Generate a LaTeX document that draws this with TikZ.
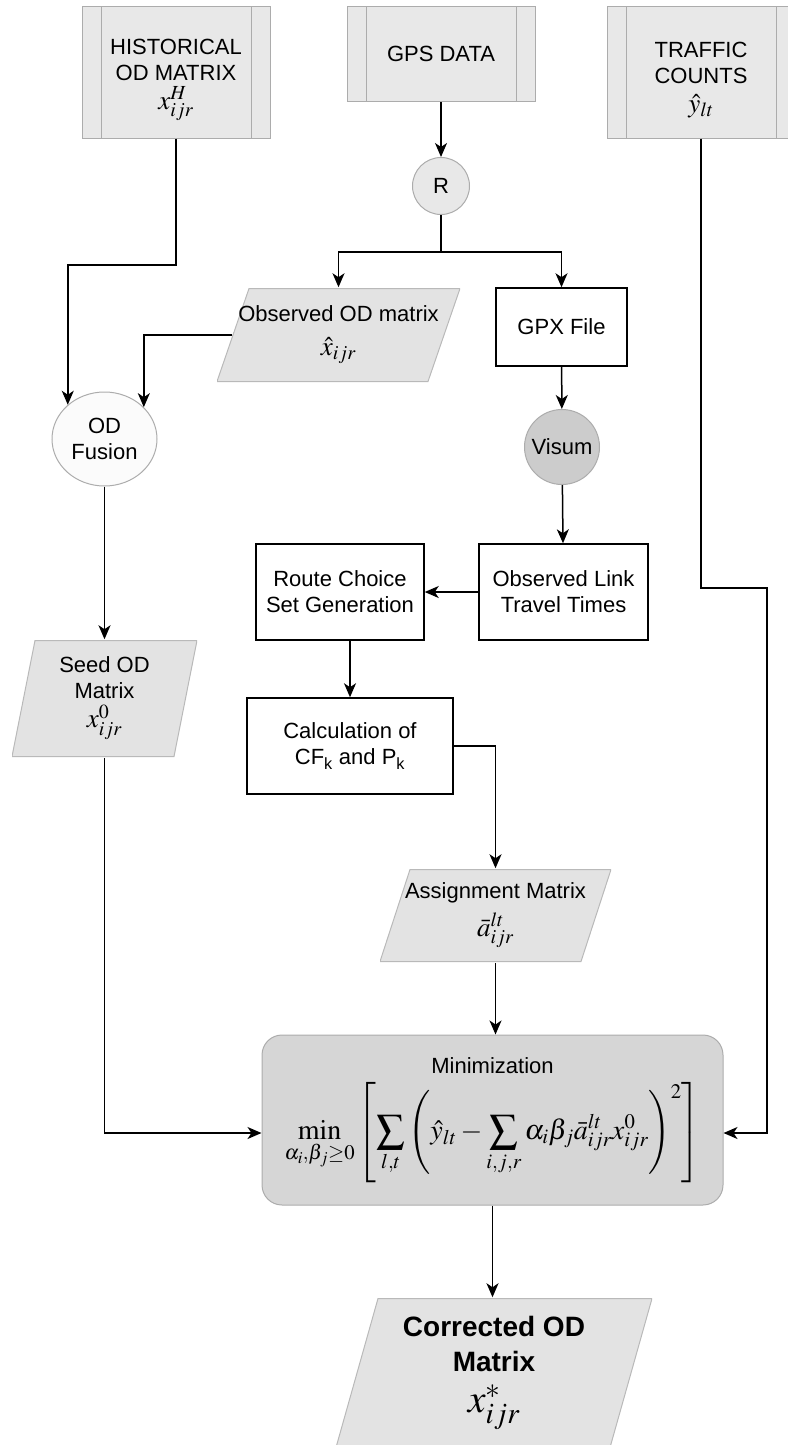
\documentclass[tikz,border=0pt]{standalone}
\usepackage{amsmath}
\usepackage{mathptmx}
\usepackage[no-math]{fontspec}
\setmainfont{Liberation Sans}
\usetikzlibrary{shapes.geometric, arrows.meta, calc}

\newcommand{\mathsz}{\fontsize{27}{30}\selectfont}

\tikzset{
    arr/.style={-{Stealth[length=14pt, width=12pt, inset=4pt]}},
    proc/.style={draw=gray!65, fill=gray!18, line width=1pt, minimum width=188pt, align=center,
        path picture={\draw[gray!65, line width=1pt]
            ([xshift=19pt]path picture bounding box.north west) -- ([xshift=19pt]path picture bounding box.south west)
            ([xshift=-19pt]path picture bounding box.north east) -- ([xshift=-19pt]path picture bounding box.south east);}},
    box/.style={draw, fill=white, line width=1.5pt, align=center},
    data/.style={inner sep=0pt, align=center,
        path picture={\filldraw[draw=gray!55, fill=gray!22, line width=1pt]
            ([yshift=0.5pt]path picture bounding box.south west)
            -- ([xshift=#1pt, yshift=-0.5pt]path picture bounding box.north west)
            -- ([yshift=-0.5pt]path picture bounding box.north east)
            -- ([xshift=-#1pt, yshift=0.5pt]path picture bounding box.south east) -- cycle;}},
}

\begin{document}
\begin{tikzpicture}[x=1pt, y=-1pt, line width=1.5pt, font=\fontsize{22}{26}\selectfont]
    \useasboundingbox (0,0) rectangle (787,1445);

    \node[proc, minimum height=131pt] (hist) at (176,72.5) {\rule{0pt}{30pt}HISTORICAL\\OD MATRIX\\[3pt]{\mathsz$x^{H}_{ijr}$}};
    \node[proc, minimum height=95pt] (gps) at (441,54) {GPS DATA};
    \node[proc, minimum height=131pt] (traffic) at (701,72.5) {\rule{0pt}{30pt}TRAFFIC\\COUNTS\\[3pt]{\mathsz$\hat{y}_{lt}$}};

    \node[circle, draw=gray!65, fill=gray!18, line width=1pt, minimum size=57pt, inner sep=0pt] (r) at (441,186) {R};
    \node[data=32, minimum width=243pt, minimum height=94pt] (obs) at (338.5,335) {Observed OD matrix\\[8pt]{\mathsz$\hat{x}_{ijr}$}};
    \node[box, minimum width=131pt, minimum height=78pt] (gpx) at (561.5,327) {GPX File};
    \node[circle, draw=gray!65, fill=gray!40, line width=1pt, minimum size=75pt, inner sep=0pt] (visum) at (562,447) {Visum};
    \node[ellipse, draw=gray!65, fill=gray!3, line width=1pt, minimum width=105pt, minimum height=94pt, inner sep=0pt, align=center] (fusion) at (104.5,439) {OD\\Fusion};

    \node[box, minimum width=169pt, minimum height=96pt] (link) at (563.5,592) {Observed Link\\Travel Times};
    \node[box, minimum width=168pt, minimum height=96pt] (route) at (340,592) {Route Choice\\Set Generation};
    \node[box, minimum width=206pt, minimum height=96pt] (calc) at (350,746) {Calculation of\\CF\textsubscript{k} and P\textsubscript{k}};
    \node[data=23, minimum width=185pt, minimum height=117pt] (seed) at (104.5,698.5) {Seed OD\\Matrix\\[3pt]{\mathsz$x^{0}_{ijr}$}};
    \node[data=30, minimum width=231pt, minimum height=93pt] (assign) at (495.5,915.5) {Assignment Matrix\\[8pt]{\mathsz$\bar{a}^{lt}_{ijr}$}};

    \node[draw=gray!65, fill=gray!32, line width=1pt, rounded corners=20pt, minimum width=461pt, minimum height=170pt, align=center] (min) at (492.5,1120)
        {Minimization\\[8pt]{\fontsize{28}{32}\selectfont$\displaystyle \min_{\alpha_i,\beta_j\geq 0}\left[\sum_{l,t}\left(\hat{y}_{lt}-\sum_{i,j,r}\alpha_i\beta_j\bar{a}^{lt}_{ijr}x^{0}_{ijr}\right)^{2}\right]$}};
    \node[data=42, minimum width=316pt, minimum height=150pt, font=\fontsize{28}{35}\selectfont\bfseries] (corr) at (494,1373)
        {Corrected OD\\Matrix\\[6pt]{\fontsize{40}{40}\selectfont$x^{*}_{ijr}$}};

    \coordinate (split) at (441,252);
    \coordinate (hbend) at (176,265);
    \coordinate (tbend) at (767,588);
    \coordinate (sin) at ($(min.west)+(0,13)$);
    \coordinate (tin) at ($(min.east)+(0,13)$);

    \draw[arr] (gps) -- (r);
    \draw (r) -- (split);
    \draw[arr] (split) -| (obs.north);
    \draw[arr] (split) -| (gpx.north);
    \draw[arr] (hist.south) -- (hbend) -| (fusion.137);
    \draw[arr] ([xshift=16pt]obs.west) -| (fusion.39);
    \draw[arr] (gpx) -- (visum);
    \draw[arr] (visum) -- (link);
    \draw[arr] (link) -- (route);
    \draw[arr] (route.south -| calc.north) -- (calc.north);
    \draw[arr] (calc.east) -| (assign.north);
    \draw[arr] (assign.south) -- (assign.south |- min.north);
    \draw[arr] (fusion.south) -- (fusion.south |- seed.north);
    \draw[arr] (seed.south) |- (sin);
    \draw[arr] (traffic.south) |- (tbend) |- (tin);
    \draw[arr] (min.south) -- (min.south |- corr.north);
\end{tikzpicture}
\end{document}
